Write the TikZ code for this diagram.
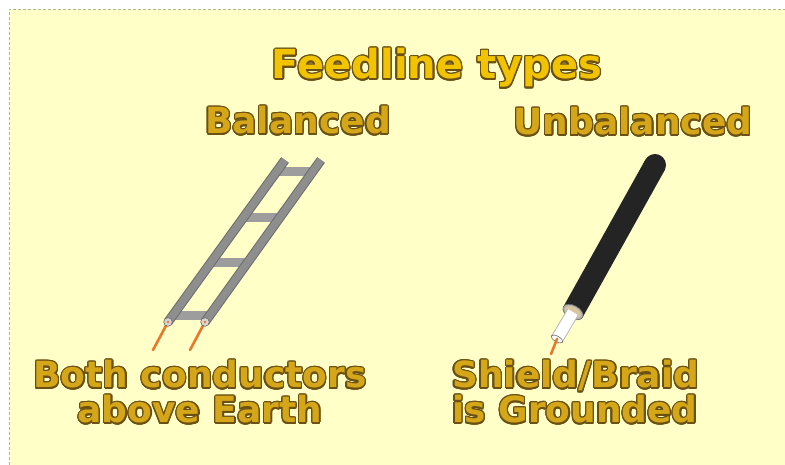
\documentclass[tikz,border=0pt]{standalone}
\usepackage{fontspec}
\setmainfont{DejaVu Sans}
\usepackage{tikz}
\usetikzlibrary{calc}
\definecolor{panel}{HTML}{FFFFC8}
\definecolor{panelrule}{HTML}{A9B79A}
\definecolor{headfill}{HTML}{F2C400}
\definecolor{labelfill}{HTML}{D5A718}
\definecolor{letteredge}{HTML}{6B5013}
\definecolor{railgray}{HTML}{8E8E8E}
\definecolor{railedge}{HTML}{6C6C6C}
\definecolor{runggray}{HTML}{9D9D9D}
\definecolor{copper}{HTML}{E8792C}
\definecolor{jacket}{HTML}{242424}
\definecolor{braid}{HTML}{D9C59C}
% outlined lettering: a ring of dark copies under the coloured text
\newcommand{\signlabel}[4]{%
  \foreach \a in {0,20,...,340}
    \node[#2, text=letteredge] at ($(#3)+(\a:1.3)$) {#4};
  \node[#2] (#1) at (#3) {#4};
}
\tikzset{
  heading/.style={font=\fontsize{40}{44}\selectfont\bfseries, text=headfill, inner sep=0pt, anchor=base},
  caption/.style={font=\fontsize{36}{35}\selectfont\bfseries, text=labelfill, inner sep=0pt, anchor=base},
  railrim/.style={line width=9.5pt, draw=railedge},
  rail/.style={line width=7.5pt, draw=railgray},
  rung/.style={line width=9pt, draw=runggray},
  wire/.style={line width=2.6pt, draw=copper, line cap=round},
  endface/.style={fill=#1, draw=gray!80!black, line width=0.6pt},
  coax/.style={line width=22pt, draw=jacket}
}

\begin{document}
\begin{tikzpicture}[x=1pt, y=1pt]
  \useasboundingbox (0,0) rectangle (785,465);
  \fill[panel] (9,0) rectangle (785,456);
  \draw[panelrule, dash pattern=on 3pt off 2pt, line width=0.8pt] (9,0) -- (9,456) -- (785,456);

  % headings
  \signlabel{title}{heading}{437,386}{Feedline types}
  \signlabel{balanced}{caption}{298,331}{Balanced}
  \signlabel{unbalanced}{caption}{633,330}{Unbalanced}

  % ladder line
  \coordinate (lb) at (168,143);
  \coordinate (lt) at (285,305);
  \coordinate (rb) at (205,143);
  \coordinate (rt) at (321,305);
  \foreach \t in {0.04,0.37,0.648,0.926}
    \draw[rung] ($(lb)!\t!(lt)$) -- ($(rb)!\t!(rt)$);
  \draw[railrim] (lb) -- (lt);
  \draw[rail] (lb) -- (lt);
  \draw[railrim] (rb) -- (rt);
  \draw[rail] (rb) -- (rt);
  \coordinate (lw) at (153,115);
  \coordinate (rw) at (190,115);
  \draw[wire] (lb) -- (lw);
  \draw[wire] (rb) -- (rw);
  \draw[endface=pink!30!gray!40] (lb) circle (4.3);
  \draw[endface=pink!30!gray!40] (rb) circle (4.3);
  \fill[copper] (lb) circle (1.4);
  \fill[copper] (rb) circle (1.4);

  % coax
  \coordinate (ca) at (573,153);
  \coordinate (cb) at (655,300);
  \coordinate (cd) at (557,126);
  \coordinate (cw) at (551,111);
  \draw[coax] (ca) -- (cb);
  \fill[jacket] (cb) circle (11);
  \draw[endface=gray!60, rotate around={61:(ca)}] (ca) ellipse [x radius=6.5, y radius=11];
  \fill[braid, rotate around={61:(ca)}] (ca) ellipse [x radius=5, y radius=8.5];
  \draw[line width=13pt, gray!55] (ca) -- (cd);
  \draw[line width=11pt, white] (ca) -- (cd);
  \draw[endface=white, rotate around={61:(cd)}] (cd) ellipse [x radius=2.8, y radius=6.5];
  \fill[copper] (cd) circle (1.4);
  \draw[wire] (cd) -- (cw);

  % notes
  \signlabel{balnote}{caption, align=center}{200,42}{Both conductors\\above Earth}
  \signlabel{unbalnote}{caption, align=left, anchor=base west}{452,42}{Shield/Braid\\is Grounded}
\end{tikzpicture}
\end{document}
